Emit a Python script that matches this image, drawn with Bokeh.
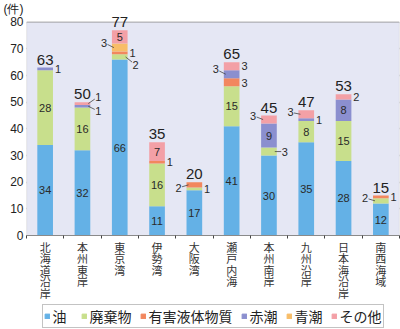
from bokeh.plotting import figure
from bokeh.layouts import column
from bokeh.models import (FixedTicker, Legend, LegendItem, LabelSet,
                          ColumnDataSource, Range1d, BoxAnnotation)
from bokeh.embed import file_html
from bokeh.resources import INLINE
from bokeh.core.properties import value

regions = ["北海道沿岸", "本州東岸", "東京湾", "伊勢湾", "大阪湾",
           "瀬戸内海", "本州南岸", "九州沿岸", "日本海沿岸", "南西海域"]
oil       = [34, 32, 66, 11, 17, 41, 30, 35, 28, 12]
waste     = [28, 16,  2, 16,  1, 15,  3,  8, 15,  2]
hazardous = [ 0,  0,  1,  1,  2,  3,  0,  0,  0,  1]
red_tide  = [ 1,  1,  0,  0,  0,  3,  9,  1,  8,  0]
blue_tide = [ 0,  0,  3,  0,  0,  0,  0,  0,  0,  0]
other     = [ 0,  1,  5,  7,  0,  3,  3,  3,  2,  0]
series_names = ["油", "廃棄物", "有害液体物質", "赤潮", "青潮", "その他"]
y_ticks = [0, 10, 20, 30, 40, 50, 60, 70, 80]
unit_label = "(件)"

colors = ["#64b1e6", "#c8df8c", "#f2875e", "#8b8fcf", "#f8bd68", "#f3a0a6"]

# small-label placement: (region, series, side(+1 right/-1 left), dy px, leader)
small_label_layout = [
    (0, 3, 1, 0, False),
    (1, 5, 1, -7, True), (1, 3, 1, 5, True),
    (2, 4, -1, -5, True), (2, 2, 1, 0, False), (2, 1, 1, 8, True),
    (3, 2, 1, 0, False),
    (4, 2, -1, 3, True), (4, 1, 1, 0, False),
    (5, 2, 1, 1, False), (5, 3, -1, -5, True), (5, 5, 1, 0, False),
    (6, 1, 1, 0, True), (6, 5, -1, -4, True),
    (7, 3, 1, 0, False), (7, 5, -1, -2, True),
    (8, 5, 1, 0, False),
    (9, 1, -1, -3, True), (9, 2, 1, 0, False),
]

series = [oil, waste, hazardous, red_tide, blue_tide, other]
keys = ["s%d" % i for i in range(6)]
xs = list(range(1, len(regions) + 1))
data = {"x": xs}
for k, s in zip(keys, series):
    data[k] = s
src = ColumnDataSource(data)

Y_MAX = 80
PX_PER_Y = 2.7
UNIT_Y = Y_MAX + 13 / PX_PER_Y          # where the unit text sits
Y_TOP = Y_MAX + 16 / PX_PER_Y
FRAME_W = 375
BAR_W = 0.42
XPX = 10.0 / FRAME_W
YPX = 1.0 / PX_PER_Y

p = figure(width=400, height=303,
           output_backend="svg", toolbar_location=None,
           x_range=Range1d(0.5, 10.5), y_range=Range1d(0, Y_TOP),
           min_border_left=24, min_border_right=1, min_border_top=6,
           min_border_bottom=0)
p.background_fill_color = "white"
p.border_fill_color = "white"
p.outline_line_color = None

p.add_layout(BoxAnnotation(bottom=0, top=Y_MAX, fill_color="#e5e7f4", fill_alpha=1.0,
                           line_color="#8a8a8a", line_width=1.2, level="underlay"))

rs = p.vbar_stack(keys, x="x", width=BAR_W, source=src, color=colors,
                  line_color=None)

# axes
p.yaxis.ticker = FixedTicker(ticks=y_ticks + [UNIT_Y])
p.yaxis.major_label_overrides = {UNIT_Y: unit_label}
p.yaxis.major_label_text_font = "Liberation Sans"
p.yaxis.major_label_text_font_size = "12px"
p.yaxis.major_label_text_color = "#222"
p.yaxis.major_tick_out = 0
p.yaxis.major_tick_in = 0
p.yaxis.minor_tick_out = 0
p.yaxis.minor_tick_in = 0
p.yaxis.axis_line_color = None
p.yaxis.major_label_standoff = 3

p.xaxis.ticker = FixedTicker(ticks=xs, minor_ticks=[x + 0.5 for x in [0] + xs])
p.xaxis.major_label_overrides = {x: "\n".join(r) for x, r in zip(xs, regions)}
p.xaxis.major_label_text_font = "Noto Sans CJK JP"
p.xaxis.major_label_text_font_size = "11px"
p.xaxis.major_label_text_color = "#333"
p.xaxis.major_label_text_line_height = 0.72
p.xaxis.major_label_standoff = 0
p.xaxis.major_tick_out = 0
p.xaxis.major_tick_in = 0
p.xaxis.minor_tick_out = 3
p.xaxis.minor_tick_in = 0
p.xaxis.minor_tick_line_color = "#444"
p.xaxis.axis_line_color = "#8a8a8a"

p.xgrid.grid_line_color = None
p.ygrid.ticker = FixedTicker(ticks=y_ticks)
p.ygrid.grid_line_color = "#8c8c8c"
p.ygrid.grid_line_width = 1.3
p.ygrid.level = "underlay"

# inside labels and small labels
in_x, in_y, in_t = [], [], []
sm_x, sm_y, sm_t = [], [], []
ld_x0, ld_y0, ld_x1, ld_y1 = [], [], [], []
layout = {(r, s): (side, dy, ld) for r, s, side, dy, ld in small_label_layout}
for i in range(len(regions)):
    base = 0
    for j, s in enumerate(series):
        v = s[i]
        if v > 0:
            mid = base + v / 2.0
            if v >= 5:
                in_x.append(xs[i]); in_y.append(mid); in_t.append(str(v))
            elif (i, j) in layout:
                side, dy, ld = layout[(i, j)]
                off = 8 if ld else 5
                edge = xs[i] + side * BAR_W / 2
                lx = edge + side * off * XPX
                ly = mid - dy * YPX
                sm_x.append(lx); sm_y.append(ly); sm_t.append(str(v))
                if ld:
                    ld_x0.append(lx - side * 3.5 * XPX)
                    ld_y0.append(ly + (mid - ly) * 0.35)
                    ld_x1.append(edge - side * 2 * XPX)
                    ld_y1.append(mid)
        base += v

totals = [sum(s[i] for s in series) for i in range(len(regions))]

p.segment(x0=ld_x0, y0=ld_y0, x1=ld_x1, y1=ld_y1, line_color="#444", line_width=0.8)

p.add_layout(LabelSet(x="x", y="y", text="t",
                      source=ColumnDataSource(dict(x=in_x, y=in_y, t=in_t)),
                      text_align="center", text_baseline="middle",
                      text_font=value("Liberation Sans"), text_font_size="11px",
                      text_color="#2a2a2a"))
p.add_layout(LabelSet(x="x", y="y", text="t",
                      source=ColumnDataSource(dict(x=sm_x, y=sm_y, t=sm_t)),
                      text_align="center", text_baseline="middle",
                      text_font=value("Liberation Sans"), text_font_size="11px",
                      text_color="#2a2a2a"))
p.add_layout(LabelSet(x="x", y="y", text="t", y_offset=3,
                      source=ColumnDataSource(dict(x=xs, y=totals, t=[str(t) for t in totals])),
                      text_align="center", text_baseline="bottom",
                      text_font=value("Liberation Sans"), text_font_size="15px",
                      text_color="#222"))

# legend strip below the chart (swatch renderers sit outside the visible range)
lg = figure(width=400, height=26, output_backend="svg", toolbar_location=None,
            x_axis_location=None, y_axis_location=None,
            x_range=Range1d(0, 1), y_range=Range1d(0, 1),
            min_border=0, outline_line_color=None)
lg.grid.visible = False
swatches = [lg.vbar(x=[-10], top=[-10], bottom=[-11], width=1, color=c) for c in colors]
legend = Legend(items=[LegendItem(label=n, renderers=[r]) for n, r in zip(series_names, swatches)],
                orientation="horizontal", location="center",
                glyph_width=6, glyph_height=6, label_standoff=3, spacing=8,
                padding=1, margin=0, label_height=14,
                label_text_font="Noto Sans CJK JP", label_text_font_size="14px",
                label_text_color="#222", border_line_color="#888",
                border_line_width=1, background_fill_color="white")
lg.add_layout(legend, "center")

open("out.html", "w").write(file_html(column(p, lg, spacing=0), INLINE))
